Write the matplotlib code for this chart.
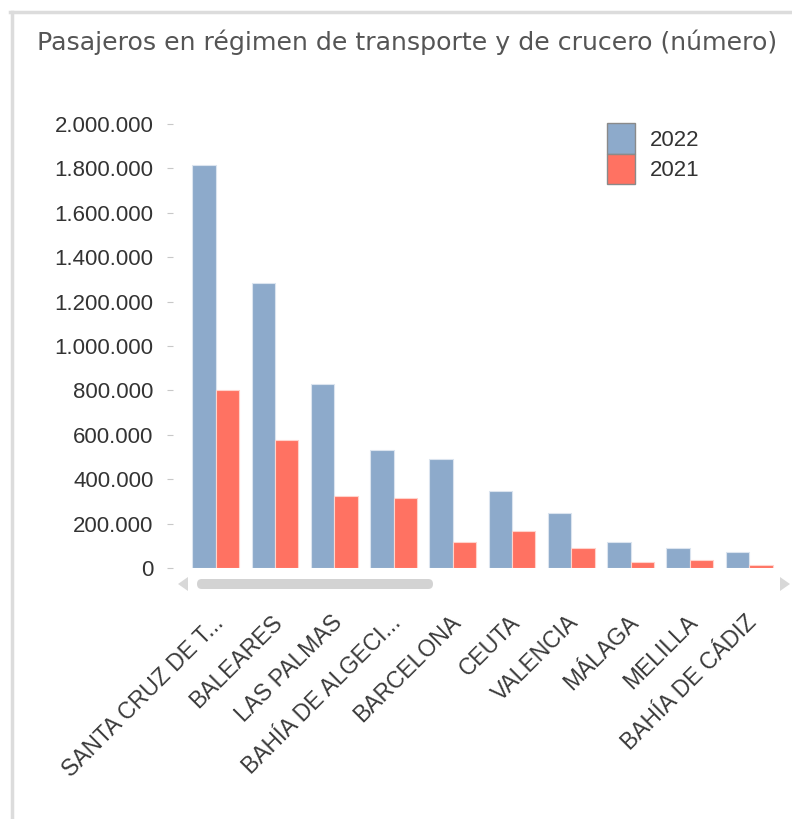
import matplotlib
matplotlib.use('Agg')
import numpy as np
import matplotlib.pyplot as plt
import matplotlib.transforms as mtransforms
from matplotlib.patches import FancyBboxPatch, Polygon
from matplotlib.lines import Line2D
from matplotlib.ticker import FuncFormatter

puertos = ['SANTA CRUZ DE T...', 'BALEARES', 'LAS PALMAS', 'BAHÍA DE ALGECI...',
           'BARCELONA', 'CEUTA', 'VALENCIA', 'MÁLAGA', 'MELILLA', 'BAHÍA DE CÁDIZ']
pax_2022 = [1815000, 1285000, 827000, 531000, 490000, 348000, 246000, 116000, 89000, 72000]
pax_2021 = [800000, 575000, 323000, 314000, 116000, 167000, 89000, 28000, 37000, 12000]
y_ticks = np.arange(0, 2000001, 200000)

c_2022 = '#8DAACB'
c_2021 = '#FF7262'

W, H = 792, 819
fig = plt.figure(figsize=(W / 100, H / 100), dpi=100)
plt.rcParams['font.family'] = ['Liberation Sans', 'DejaVu Sans']

# axes placed in pixels
ax = fig.add_axes([173 / W, (H - 568) / H, 607 / W, 455 / H])

x = np.arange(len(puertos))
bw = 0.395
ax.bar(x - bw / 2, pax_2022, bw, color=c_2022, edgecolor='#dbe4ef', linewidth=0.8, label='2022')
ax.bar(x + bw / 2, pax_2021, bw, color=c_2021, edgecolor='#ffd3cc', linewidth=0.8, label='2021')

ax.set_xlim(-0.72, 9.52)
ax.set_ylim(0, 2.05e6)
ax.set_yticks(y_ticks)
ax.yaxis.set_major_formatter(FuncFormatter(lambda v, p: f'{int(v):,}'.replace(',', '.')))
ax.tick_params(axis='y', direction='out', length=4, width=0.8, color='#c8c8c8',
               pad=10, labelsize=16, labelcolor='#333333')
ax.set_xticks(x)
ax.set_xticklabels(puertos, rotation=45, ha='right', rotation_mode='anchor')
ax.tick_params(axis='x', length=0, pad=31, labelsize=16.5, labelcolor='#3a3a3a')
shift = mtransforms.ScaledTranslation(-4 / 100, 0, fig.dpi_scale_trans)
for lab in ax.get_xticklabels():
    lab.set_transform(lab.get_transform() + shift)
for s in ax.spines.values():
    s.set_visible(False)

leg = ax.legend(loc='upper left', bbox_to_anchor=(0.70, 0.997), frameon=False,
                fontsize=16, handlelength=1.25, handleheight=1.72, labelspacing=0.0,
                handletextpad=0.7, borderaxespad=0)
for h in leg.legend_handles:
    h.set_edgecolor('#8a8a8a')
    h.set_linewidth(1.0)
for t in leg.get_texts():
    t.set_color('#333333')

# title
fig.text(37 / W, 1 - 42 / H, 'Pasajeros en régimen de transporte y de crucero (número)',
         fontsize=18.2, color='#555555', va='center', ha='left', family='DejaVu Sans')

# panel frame
fig.add_artist(Line2D([10 / W, 1], [1 - 12 / H, 1 - 12 / H], color='#dcdcdc', lw=2.5))
fig.add_artist(Line2D([12 / W, 12 / W], [0, 1 - 12 / H], color='#dcdcdc', lw=2.5))

# scroll bar
sy = 1 - 584 / H
fig.add_artist(FancyBboxPatch((197 / W, sy - 5 / H), 236 / W, 10 / H,
                              boxstyle='round,pad=0,rounding_size=0.006',
                              fc='#d3d3d3', ec='none'))
fig.add_artist(Polygon([(178 / W, sy), (188 / W, sy + 7 / H), (188 / W, sy - 7 / H)],
                       closed=True, fc='#d8d8d8', ec='none'))
fig.add_artist(Polygon([(790 / W, sy), (780 / W, sy + 7 / H), (780 / W, sy - 7 / H)],
                       closed=True, fc='#d8d8d8', ec='none'))

fig.savefig('out.png', dpi=100)
